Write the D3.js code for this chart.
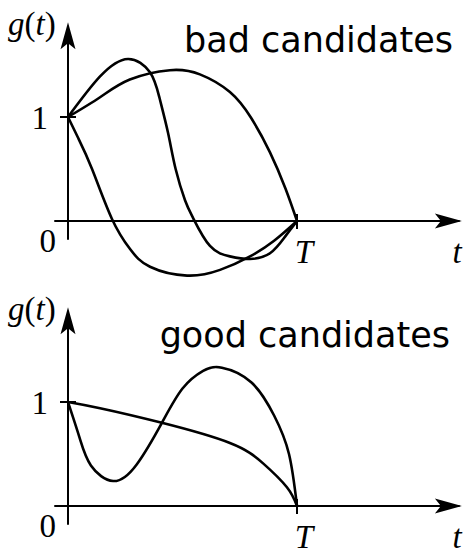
<!DOCTYPE html>
<html>
<head>
  <meta charset="utf-8">
  <script src="https://d3js.org/d3.v7.min.js"></script>
  <style>
    body { margin: 0px; background: #fff; }
    .math { font-family: "Liberation Serif", serif; font-size: 33px; fill: #000; }
    .title { font-family: "DejaVu Sans", sans-serif; font-size: 35px; fill: #000; }
  </style>
</head>
<body>
  <svg width="466" height="548"></svg>
  <script>
    // data (t as fraction of T, g(t) value)
    const badA_t = [0, 0.14, 0.262, 0.358, 0.40, 0.437, 0.47, 0.511, 0.546, 0.62, 0.707, 0.795, 0.882, 0.948, 1];
    const badA_g = [1, 1.39, 1.558, 1.43, 1.18, 0.846, 0.50, 0.2, 0.03, -0.24, -0.34, -0.365, -0.31, -0.15, 0];
    const badB_t = [0, 0.14, 0.27, 0.445, 0.576, 0.707, 0.80, 0.882, 0.95, 1];
    const badB_g = [1, 1.19, 1.36, 1.45, 1.41, 1.24, 0.99, 0.66, 0.31, 0];
    const badC_t = [0, 0.044, 0.105, 0.192, 0.271, 0.358, 0.52, 0.664, 0.795, 0.90, 1];
    const badC_g = [1, 0.80, 0.50, 0.02, -0.27, -0.44, -0.525, -0.47, -0.34, -0.19, 0];
    const goodD_t = [0, 0.14, 0.41, 0.707, 0.852, 0.956, 1];
    const goodD_g = [1, 0.94, 0.8, 0.606, 0.41, 0.18, 0];
    const goodE_t = [0, 0.05, 0.10, 0.197, 0.30, 0.41, 0.50, 0.59, 0.672, 0.80, 0.90, 0.965, 1];
    const goodE_g = [1, 0.66, 0.39, 0.24, 0.40, 0.8, 1.13, 1.30, 1.33, 1.19, 0.87, 0.50, 0];

    const svg = d3.select('svg');

    const xScale = d3.scaleLinear().domain([0, 1]).range([68, 297]);

    const zip = (ts, gs) => ts.map((t, i) => ({ t: t, g: gs[i] }));

    // one panel: axes, ticks, labels, curves
    function panel(y0, title, titleX, titleY, curves) {
      const yScale = d3.scaleLinear().domain([0, 1]).range([y0, y0 - 104]);
      const g = svg.append('g');

      const line = d3.line()
        .x(d => xScale(d.t))
        .y(d => yScale(d.g))
        .curve(d3.curveNatural);

      // x axis
      const xa = xScale(-0.06), xb = xScale(1.71), xTip = xScale(1.72);
      const yz = yScale(0);
      g.append('line')
        .attr('x1', xa).attr('x2', xb)
        .attr('y1', yz).attr('y2', yz)
        .attr('stroke', '#000').attr('stroke-width', 2);
      g.append('path')
        .attr('d', `M${xTip},${yz} L${xTip - 27},${yz - 7.5} L${xTip - 21},${yz} L${xTip - 27},${yz + 7.5} Z`)
        .attr('fill', '#000');

      // y axis
      const ya = yScale(-0.18), yTip = yScale(1.91);
      const xz = xScale(0);
      g.append('line')
        .attr('x1', xz).attr('x2', xz)
        .attr('y1', ya).attr('y2', yTip + 20)
        .attr('stroke', '#000').attr('stroke-width', 2);
      g.append('path')
        .attr('d', `M${xz},${yTip} L${xz - 7.5},${yTip + 27} L${xz},${yTip + 21} L${xz + 7.5},${yTip + 27} Z`)
        .attr('fill', '#000');

      // ticks
      g.append('line')
        .attr('x1', xz - 8).attr('x2', xz + 8)
        .attr('y1', yScale(1)).attr('y2', yScale(1))
        .attr('stroke', '#000').attr('stroke-width', 2);
      g.append('line')
        .attr('x1', xScale(1)).attr('x2', xScale(1))
        .attr('y1', yz - 7).attr('y2', yz + 8)
        .attr('stroke', '#000').attr('stroke-width', 2);

      // curves
      curves.forEach(c => {
        g.append('path')
          .attr('d', line(c))
          .attr('fill', 'none')
          .attr('stroke', '#000')
          .attr('stroke-width', 2.6)
          .attr('stroke-linejoin', 'round');
      });

      // labels
      g.append('text').attr('class', 'math')
        .attr('x', 48).attr('y', yScale(1) + 12)
        .attr('text-anchor', 'end').text('1');
      g.append('text').attr('class', 'math')
        .attr('x', 56).attr('y', yz + 31)
        .attr('text-anchor', 'end').text('0');
      g.append('text').attr('class', 'math')
        .attr('x', xScale(1) + 7).attr('y', yz + 42)
        .attr('text-anchor', 'middle').style('font-style', 'italic').text('T');
      g.append('text').attr('class', 'math')
        .attr('x', 457).attr('y', yz + 42)
        .attr('text-anchor', 'middle').style('font-style', 'italic').text('t');

      const gl = g.append('text').attr('class', 'math')
        .attr('x', 8).attr('y', yTip + 13);
      gl.append('tspan').style('font-style', 'italic').text('g');
      gl.append('tspan').text('(');
      gl.append('tspan').style('font-style', 'italic').text('t');
      gl.append('tspan').text(')');

      g.append('text').attr('class', 'title')
        .attr('x', titleX).attr('y', titleY)
        .attr('text-anchor', 'end').text(title);
    }

    panel(221, 'bad candidates', 453, 52,
      [zip(badA_t, badA_g), zip(badB_t, badB_g), zip(badC_t, badC_g)]);
    panel(506, 'good candidates', 450, 347,
      [zip(goodD_t, goodD_g), zip(goodE_t, goodE_g)]);
  </script>
</body>
</html>
